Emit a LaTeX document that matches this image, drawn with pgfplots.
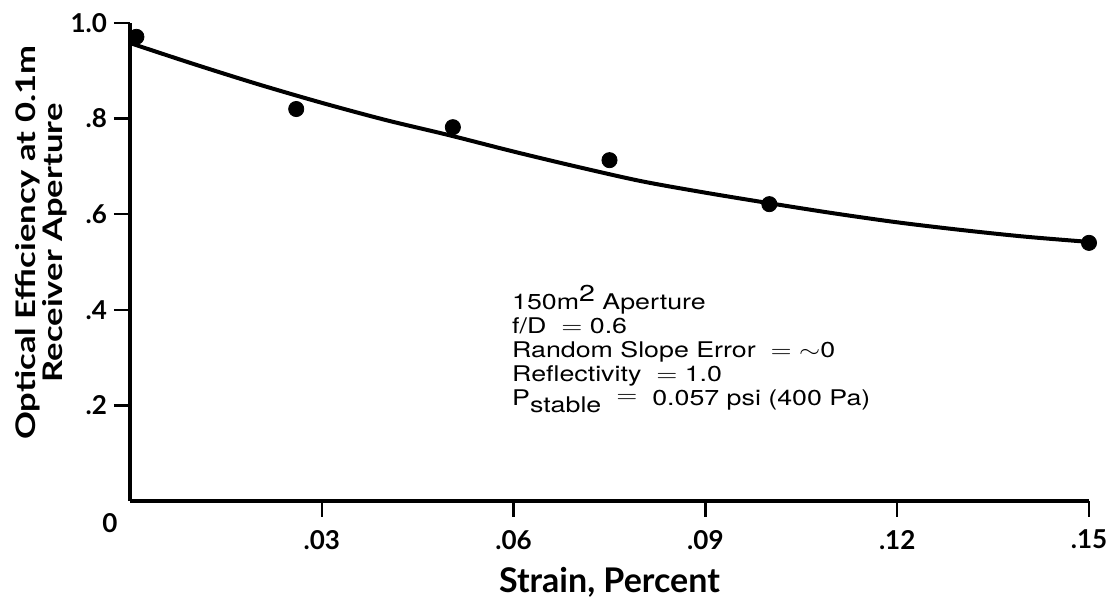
\documentclass[border=0pt]{standalone}
\usepackage{fontspec}
\setmainfont{Lato}
\newfontfamily\helv{TeX Gyre Heros}
\usepackage{pgfplots}
\pgfplotsset{compat=1.18}
\begin{document}
\begin{tikzpicture}
\begin{axis}[
 scale only axis, width=479.5pt, height=239pt,
 xmin=0, xmax=0.15, ymin=0, ymax=1,
 axis x line=bottom, axis y line=left,
 axis line style={-, line width=2.2pt},
 xtick={0.03,0.06,0.09,0.12,0.15}, xticklabels={.03,.06,.09,.12,.15},
 ytick={0.2,0.4,0.6,0.8,1.0}, yticklabels={.2,.4,.6,.8,1.0},
 tick align=outside, major tick length=8pt,
 tick style={line width=1.2pt, black},
 ticklabel style={font=\bfseries\fontsize{13}{15}\selectfont},
 xticklabel style={yshift=-3pt},
 /pgf/number format/assume math mode=true,
 xlabel={Strain, Percent},
 xlabel style={font=\bfseries\fontsize{17}{19}\selectfont, yshift=-2pt},
 clip=false,
]
\addplot[smooth, line width=2pt, black] coordinates {
(0.0,0.958)(0.01,0.914)(0.02,0.872)(0.03,0.833)(0.04,0.797)(0.05,0.765)
(0.06,0.731)(0.07,0.699)(0.08,0.669)(0.09,0.645)(0.10,0.623)(0.11,0.602)
(0.12,0.583)(0.13,0.567)(0.14,0.553)(0.15,0.542)};
\addplot[only marks, mark=*, mark size=3.8pt, black] coordinates {
(0.001,0.971)(0.026,0.820)(0.0505,0.782)(0.075,0.713)(0.1,0.621)(0.15,0.540)};
\node[font=\bfseries\fontsize{13}{15}\selectfont] at (axis cs:0,0) [xshift=-10pt, yshift=-11pt] {0};
\node[rotate=90, anchor=south, align=center, inner sep=0pt,
      font=\bfseries\fontsize{13.5}{13.5}\selectfont]
 at ([shift={(-31.5pt,0pt)}]rel axis cs:0,0.54)
 {\scalebox{1.28}[1]{Optical Efficiency at 0.1m}\\\scalebox{1.28}[1]{Receiver Aperture}};
\node[anchor=north west, inner sep=0pt, align=left, xscale=1.24, transform shape,
      font=\helv\fontsize{10.8}{12}\selectfont]
 at (rel axis cs:0.398,0.452)
 {150m\raisebox{0.7ex}{\fontsize{11.5}{12}\selectfont 2} Aperture\\
  f/D \ $=$\ 0.6\\
  Random Slope Error \ $=$\ $\sim$0\\
  Reflectivity \ $=$\ 1.0\\
  P\raisebox{-0.6ex}{stable} \ \raisebox{0.3ex}{$=$}\ \ 0.057 psi (400 Pa)};
\coordinate (SW) at (rel axis cs:0,0);
\coordinate (NE) at (rel axis cs:1,1);
\end{axis}
\pgfresetboundingbox
\path[use as bounding box] ([shift={(-65pt,-48pt)}]SW) rectangle ([shift={(9.5pt,11.5pt)}]NE);
\end{tikzpicture}
\end{document}
